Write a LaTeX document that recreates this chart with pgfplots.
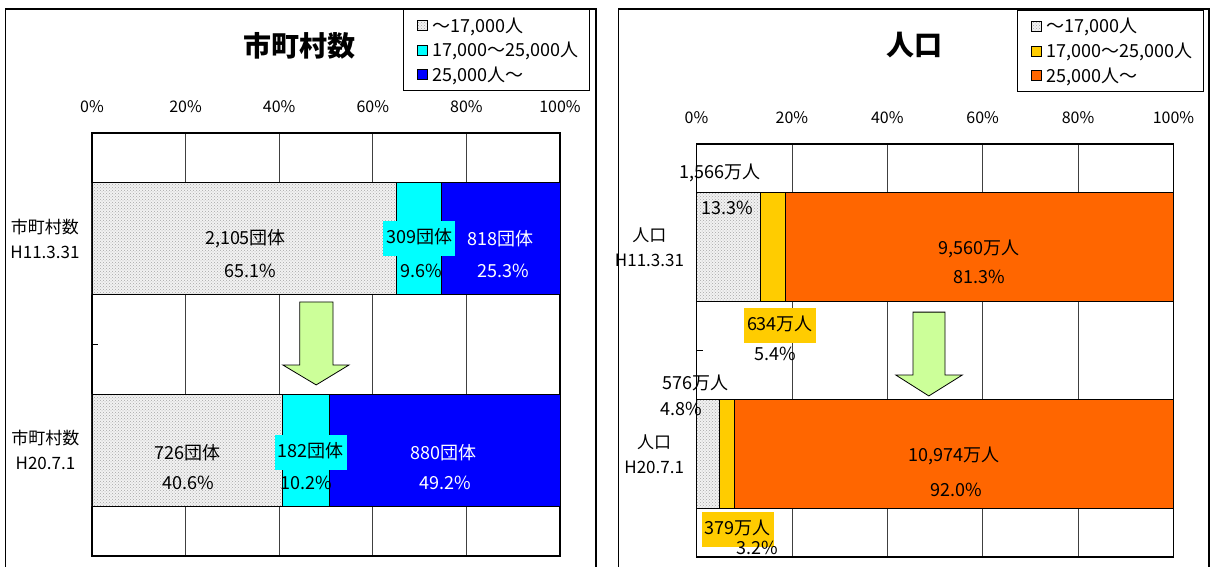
\documentclass[border=0pt]{standalone}
\usepackage{fontspec}
\setmainfont{Noto Sans CJK JP}
\usepackage{pgfplots}
\pgfplotsset{compat=1.18}
\usetikzlibrary{patterns}

\definecolor{midcyan}{HTML}{00FFFF}
\definecolor{bigblue}{HTML}{0000FF}
\definecolor{midyellow}{HTML}{FFCC00}
\definecolor{bigorange}{HTML}{FF6600}
\definecolor{arrowgreen}{HTML}{CCFF99}

\newcommand\lab{\fontsize{18}{20}\selectfont}
\newcommand\tlab{\fontsize{16}{18}\selectfont}
\newcommand\ylab{\fontsize{17}{25}\selectfont}

\tikzset{valbox/.style={inner xsep=3pt, inner ysep=8.5pt, text height=14pt, text depth=4pt}}

\pgfplotsset{
  sq legend/.style={legend image code/.code={%
    \pgfpathrectangle{\pgfpoint{0pt}{-5pt}}{\pgfpoint{18pt}{10pt}}\pgfusepath{discard}%
    \draw[##1, line width=0.7pt] (5pt,-5pt) rectangle (15pt,5pt);}},
  dotfill/.style={draw=black, line width=0.8pt, fill=gray!10,
    postaction={pattern=crosshatch dots, pattern color=gray!70}, sq legend},
  panel/.style={
    xbar stacked, scale only axis, clip=false,
    y dir=reverse, xmin=0, xmax=100, ymin=-0.5, ymax=1.5,
    xtick={0,20,...,100}, xticklabels={0\%,20\%,40\%,60\%,80\%,100\%},
    xticklabel pos=upper, xtick style={draw=none},
    xticklabel style={font=\tlab, yshift=17pt},
    xmajorgrids, major grid style={black!75, line width=0.8pt},
    ytick={0,1}, ytick style={draw=none},
    yticklabel style={font=\ylab, align=center, xshift=-9pt},
    axis line style={line width=1.2pt},
    legend cell align=left,
    legend style={draw=black, line width=0.8pt, font=\lab, row sep=4.5pt,
      inner xsep=9pt, inner ysep=6pt, cells={anchor=west}},
    title style={font=\bfseries\fontsize{28}{30}\selectfont, anchor=center},
  },
}

\begin{document}
\begin{tikzpicture}
\path[use as bounding box, fill=white] (0,0) rectangle (1212pt,-567pt);
\draw[line width=1.3pt] (5.8pt,-9pt) rectangle (596pt,-590pt);
\draw[line width=1.3pt] (618.5pt,-9pt) rectangle (1209pt,-590pt);

% number of municipalities by population size
\begin{axis}[panel,
  at={(92pt,-556pt)}, anchor=south west, width=468pt, height=423pt,
  bar width=0.53,
  yticklabels={{市町村数\\H11.3.31},{市町村数\\H20.7.1}},
  title={市町村数},
  title style={at={(axis description cs:0.444,1.192)}},
  legend style={at={(axis description cs:0.6645,1.293)}, anchor=north west},
]
\addplot[dotfill] coordinates {(65.1,0) (40.6,1)};
\addplot[draw=black, line width=0.8pt, fill=midcyan, sq legend] coordinates {(9.6,0) (10.2,1)};
\addplot[draw=black, line width=0.8pt, fill=bigblue, sq legend] coordinates {(25.3,0) (49.2,1)};
\legend{{～17,000人}, {17,000～25,000人}, {25,000人～}}

\draw[line width=0.8pt] (axis cs:0,0.5) -- ++(6pt,0pt);
\filldraw[fill=arrowgreen, draw=black, line width=0.8pt]
  (axis cs:44.4,0.299) -- (axis cs:51.5,0.299) -- (axis cs:51.5,0.597) -- (axis cs:54.9,0.597)
  -- (axis cs:47.9,0.691) -- (axis cs:40.8,0.597) -- (axis cs:44.4,0.597) -- cycle;

\coordinate (A1) at (axis cs:32.8,0);
\coordinate (A2) at (axis cs:33.8,0.15);
\coordinate (A3) at (axis cs:69.9,0);
\coordinate (A4) at (axis cs:70.3,0.15);
\coordinate (A5) at (axis cs:87.2,0);
\coordinate (A6) at (axis cs:87.8,0.15);
\coordinate (A7) at (axis cs:20.5,1.01);
\coordinate (A8) at (axis cs:20.5,1.155);
\coordinate (A9) at (axis cs:46.7,1.01);
\coordinate (A10) at (axis cs:45.7,1.155);
\coordinate (A11) at (axis cs:75.2,1.01);
\coordinate (A12) at (axis cs:75.4,1.155);
\end{axis}

% population by municipality size
\begin{axis}[panel,
  at={(696.5pt,-557pt)}, anchor=south west, width=477pt, height=413pt,
  bar width=0.528,
  yticklabels={{人口\\H11.3.31},{人口\\H20.7.1}},
  title={人口},
  title style={at={(axis description cs:0.456,1.224)}},
  legend style={at={(axis description cs:0.672,1.3245)}, anchor=north west},
]
\addplot[dotfill] coordinates {(13.3,0) (4.8,1)};
\addplot[draw=black, line width=0.8pt, fill=midyellow, sq legend] coordinates {(5.4,0) (3.2,1)};
\addplot[draw=black, line width=0.8pt, fill=bigorange, sq legend] coordinates {(81.3,0) (92.0,1)};
\legend{{～17,000人}, {17,000～25,000人}, {25,000人～}}

\draw[line width=0.8pt] (axis cs:0,0.5) -- ++(6pt,0pt);
\filldraw[fill=arrowgreen, draw=black, line width=0.8pt]
  (axis cs:45.4,0.314) -- (axis cs:52.1,0.314) -- (axis cs:52.1,0.619) -- (axis cs:55.7,0.619)
  -- (axis cs:48.7,0.720) -- (axis cs:41.8,0.619) -- (axis cs:45.4,0.619) -- cycle;

\coordinate (B1) at (axis cs:4.9,-0.36);
\coordinate (B2) at (axis cs:6.4,-0.19);
\coordinate (B3) at (axis cs:59.2,0.008);
\coordinate (B4) at (axis cs:59.2,0.144);
\coordinate (B5) at (axis cs:17.5,0.381);
\coordinate (B6) at (axis cs:16.5,0.517);
\coordinate (B7) at (axis cs:-0.3,0.657);
\coordinate (B8) at (axis cs:-3.2,0.783);
\coordinate (B9) at (axis cs:54.0,1.011);
\coordinate (B10) at (axis cs:54.4,1.176);
\coordinate (B11) at (axis cs:8.6,1.367);
\coordinate (B12) at (axis cs:12.7,1.456);
\end{axis}

% value labels
\begin{scope}[every node/.style={font=\lab}]
\node at (A1) {2,105団体};
\node at (A2) {65.1\%};
\node[valbox, fill=midcyan] at (A3) {309団体};
\node at (A4) {9.6\%};
\node[text=white] at (A5) {818団体};
\node[text=white] at (A6) {25.3\%};
\node at (A7) {726団体};
\node at (A8) {40.6\%};
\node[valbox, fill=midcyan] at (A9) {182団体};
\node at (A10) {10.2\%};
\node[text=white] at (A11) {880団体};
\node[text=white] at (A12) {49.2\%};

\node at (B1) {1,566万人};
\node at (B2) {13.3\%};
\node at (B3) {9,560万人};
\node at (B4) {81.3\%};
\node[valbox, fill=midyellow] at (B5) {634万人};
\node at (B6) {5.4\%};
\node at (B7) {576万人};
\node at (B8) {4.8\%};
\node at (B9) {10,974万人};
\node at (B10) {92.0\%};
\node[valbox, fill=midyellow] at (B11) {379万人};
\node at (B12) {3.2\%};
\end{scope}
\end{tikzpicture}
\end{document}
